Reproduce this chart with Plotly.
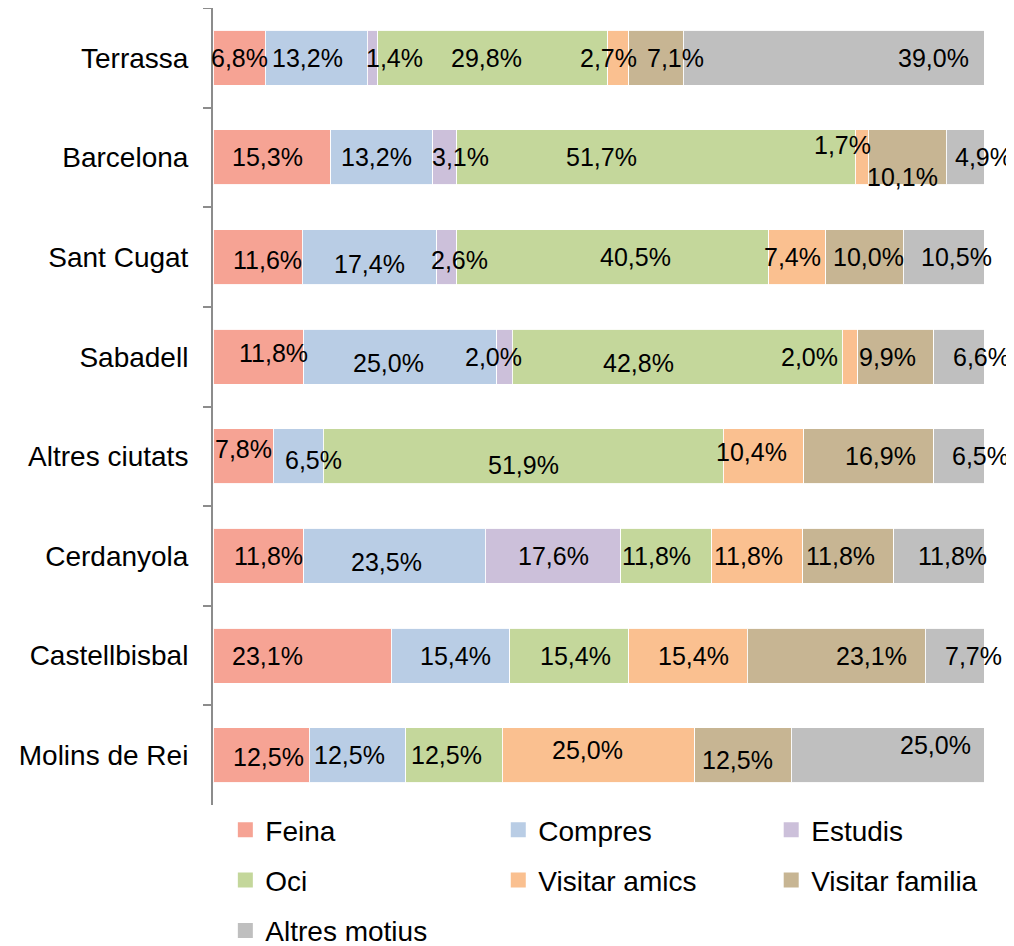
import plotly.graph_objects as go

cities = ["Terrassa", "Barcelona", "Sant Cugat", "Sabadell", "Altres ciutats",
          "Cerdanyola", "Castellbisbal", "Molins de Rei"]

series_names = ["Feina", "Compres", "Estudis", "Oci", "Visitar amics",
                "Visitar familia", "Altres motius"]

feina = [6.8, 15.3, 11.6, 11.8, 7.8, 11.8, 23.1, 12.5]
compres = [13.2, 13.2, 17.4, 25.0, 6.5, 23.5, 15.4, 12.5]
estudis = [1.4, 3.1, 2.6, 2.0, 0.0, 17.6, 0.0, 0.0]
oci = [29.8, 51.7, 40.5, 42.8, 51.9, 11.8, 15.4, 12.5]
visitar_amics = [2.7, 1.7, 7.4, 2.0, 10.4, 11.8, 15.4, 25.0]
visitar_familia = [7.1, 10.1, 10.0, 9.9, 16.9, 11.8, 23.1, 12.5]
altres_motius = [39.0, 4.9, 10.5, 6.6, 6.5, 11.8, 7.7, 25.0]

series_values = [feina, compres, estudis, oci, visitar_amics, visitar_familia, altres_motius]

colors = ["#F6A394", "#B9CDE5", "#CCC0DA", "#C4D79B", "#FAC090", "#C7B593", "#BFBFBF"]

# label pixel offsets (dx right, dy down) per city, per series -- style only
label_offsets = {
    "Terrassa":       [(0, 0), (-9, 0), (22, 0), (-6, 0), (-10, 0), (20, 0), (100, 0)],
    "Barcelona":      [(-4, 0), (-5, 0), (16, 0), (-54, 0), (-19, -12), (-5, 20), (18, 0)],
    "Sant Cugat":     [(10, 3), (0, 7), (13, 3), (23, 0), (-5, 0), (4, 0), (13, 0)],
    "Sabadell":       [(15, -4), (-12, 6), (-11, 0), (-39, 6), (-40, 0), (-8, 0), (22, 0)],
    "Altres ciutats": [(0, -7), (15, 4), (0, 0), (0, 9), (-12, -4), (12, 0), (22, 0)],
    "Cerdanyola":     [(10, 0), (-8, 6), (0, 0), (-10, 0), (-9, 0), (-8, 0), (13, 0)],
    "Castellbisbal":  [(-35, 0), (5, 0), (0, 0), (6, 0), (6, 0), (35, 0), (18, 0)],
    "Molins de Rei":  [(7, 2), (-8, 0), (0, 0), (-7, 0), (-11, -5), (-6, 5), (48, -10)],
}

FONT = "Liberation Sans, Arial, sans-serif"

fig = go.Figure()

for name, vals, col in zip(series_names, series_values, colors):
    fig.add_trace(go.Bar(
        name=name, y=cities, x=vals, orientation="h",
        marker=dict(color=col, line=dict(color="rgba(255,255,255,0.9)", width=1)),
        showlegend=False, hoverinfo="x+y+name",
    ))

# data labels
annotations = []
for ci, city in enumerate(cities):
    cum = 0.0
    for si, vals in enumerate(series_values):
        v = vals[ci]
        if v > 0:
            dx, dy = label_offsets[city][si]
            annotations.append(dict(
                x=cum + v / 2, y=city, xref="x", yref="y",
                text=f"{v:.1f}".replace(".", ",") + "%",
                showarrow=False, xshift=dx, yshift=-dy,
                font=dict(family=FONT, size=25, color="#000000"),
            ))
        cum += v

# legend entries: three columns
legend_of = ["legend", "legend2", "legend3", "legend", "legend2", "legend3", "legend"]
for name, col, lg in zip(series_names, colors, legend_of):
    fig.add_trace(go.Scatter(
        x=[None], y=[None], mode="markers", name=name,
        marker=dict(symbol="square", size=15, color=col),
        legend=lg, legendgroup=name, showlegend=True, hoverinfo="skip",
    ))

leg_common = dict(orientation="v", xanchor="left", yanchor="top", y=0.0,
                  traceorder="grouped", tracegroupgap=11,
                  font=dict(family=FONT, size=28, color="#000000"),
                  bgcolor="rgba(0,0,0,0)", itemclick=False, itemdoubleclick=False)

fig.update_layout(
    width=1014, height=946,
    margin=dict(l=205, r=38, t=0, b=149, autoexpand=False),
    barmode="stack", bargap=0.449,
    plot_bgcolor="white", paper_bgcolor="white",
    font=dict(family=FONT, color="#000000"),
    annotations=annotations,
    legend=dict(x=0.016, **leg_common),
    legend2=dict(x=0.370, **leg_common),
    legend3=dict(x=0.724, **leg_common),
    xaxis=dict(range=[0, 100], visible=False, fixedrange=True),
    yaxis=dict(
        type="category", autorange="reversed",
        showline=True, linecolor="#8C8C8C", linewidth=2,
        ticks="outside", tickson="boundaries", ticklen=8, tickwidth=2, tickcolor="#8C8C8C",
        tickfont=dict(family=FONT, size=28, color="#000000"),
        ticklabelstandoff=17, showgrid=False, zeroline=False, fixedrange=True,
    ),
)

fig.write_html("out.html")
